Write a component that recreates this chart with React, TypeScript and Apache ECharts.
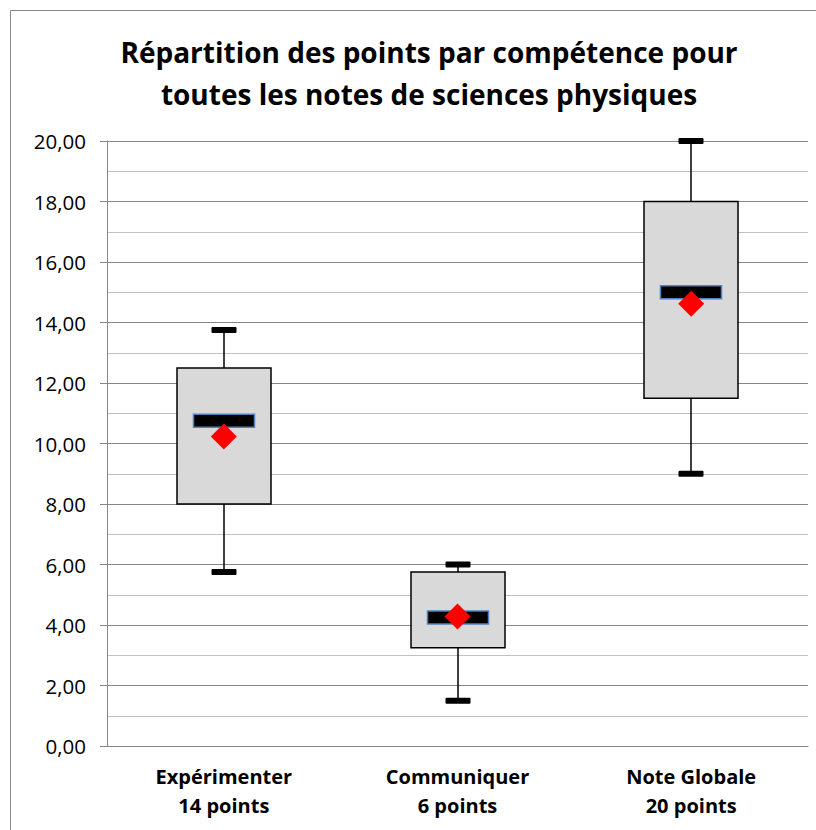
import React, { useEffect, useRef } from "react";
import * as echarts from "echarts";

const categories = ["Expérimenter\n14 points", "Communiquer\n6 points", "Note Globale\n20 points"];
const minValues = [5.75, 1.5, 9.0];
const q1Values = [8.0, 3.25, 11.5];
const medianValues = [10.75, 4.25, 15.0];
const q3Values = [12.5, 5.75, 18.0];
const maxValues = [13.75, 6.0, 20.0];
const meanValues = [10.23, 4.28, 14.62];
const titleText = "Répartition des points par compétence pour\ntoutes les notes de sciences physiques";

const FONT = "'Open Sans', 'Noto Sans', sans-serif";

export default function App() {
  const ref = useRef<HTMLDivElement>(null);
  useEffect(() => {
    if (!ref.current) return;
    document.body.style.margin = "0";
    document.body.style.overflow = "hidden";
    const chart = echarts.init(ref.current, null, { renderer: "svg" });
    const boxData = categories.map((_, i) => [i, minValues[i], q1Values[i], medianValues[i], q3Values[i], maxValues[i]]);
    const meanData = categories.map((_, i) => [i, meanValues[i]]);
    const BOX_W = 94, CAP_W = 25, CAP_H = 6, MED_W = 61, MED_H = 13;
    chart.setOption({
      animation: false,
      backgroundColor: "#ffffff",
      graphic: [
        {
          type: "line",
          shape: { x1: 10.5, y1: 10.5, x2: 816, y2: 10.5 },
          style: { stroke: "#878787", lineWidth: 1 },
          silent: true,
          z: -10,
        },
        {
          type: "line",
          shape: { x1: 10.5, y1: 10.5, x2: 10.5, y2: 830 },
          style: { stroke: "#878787", lineWidth: 1 },
          silent: true,
          z: -10,
        },
      ],
      title: {
        text: titleText,
        left: 424,
        top: 26,
        textAlign: "center",
        textStyle: { fontFamily: FONT, fontSize: 28, fontWeight: "bold", color: "#000", lineHeight: 42 },
      },
      grid: { left: 107, top: 141, right: 8, bottom: 84 },
      xAxis: {
        type: "category",
        data: categories,
        axisLine: { show: true, lineStyle: { color: "#868686", width: 1 } },
        axisTick: { show: false },
        splitLine: { show: false },
        axisLabel: {
          margin: 16,
          fontFamily: FONT,
          fontSize: 20,
          fontWeight: "bold",
          color: "#000",
          lineHeight: 29,
          interval: 0,
        },
      },
      yAxis: {
        type: "value",
        min: 0,
        max: 20,
        interval: 2,
        axisLine: { show: true, lineStyle: { color: "#868686", width: 1 } },
        axisTick: { show: true, length: 7, lineStyle: { color: "#868686" } },
        splitLine: { show: true, lineStyle: { color: "#868686", width: 1 } },
        minorTick: { show: false, splitNumber: 2 },
        minorSplitLine: { show: true, lineStyle: { color: "#c0c0c0", width: 1 } },
        axisLabel: {
          margin: 21,
          fontFamily: FONT,
          fontSize: 20.5,
          color: "#000",
          formatter: (v: number) => v.toFixed(2).replace(".", ","),
        },
      },
      series: [
        {
          type: "custom",
          data: boxData,
          encode: { x: 0, y: [1, 2, 3, 4, 5] },
          renderItem: (params: any, api: any) => {
            const idx = api.value(0);
            const pMin = api.coord([idx, api.value(1)]);
            const pQ1 = api.coord([idx, api.value(2)]);
            const pMed = api.coord([idx, api.value(3)]);
            const pQ3 = api.coord([idx, api.value(4)]);
            const pMax = api.coord([idx, api.value(5)]);
            const cx = Math.round(pMin[0]);
            return {
              type: "group",
              children: [
                {
                  type: "line",
                  shape: { x1: cx, y1: pMin[1], x2: cx, y2: pMax[1] },
                  style: { stroke: "#000", lineWidth: 1.5 },
                },
                {
                  type: "rect",
                  shape: { x: cx - CAP_W / 2, y: pMax[1] - CAP_H / 2, width: CAP_W, height: CAP_H, r: 1 },
                  style: { fill: "#000" },
                },
                {
                  type: "rect",
                  shape: { x: cx - CAP_W / 2, y: pMin[1] - CAP_H / 2, width: CAP_W, height: CAP_H, r: 1 },
                  style: { fill: "#000" },
                },
                {
                  type: "rect",
                  shape: { x: cx - BOX_W / 2, y: pQ3[1], width: BOX_W, height: pQ1[1] - pQ3[1] },
                  style: { fill: "#d9d9d9", stroke: "#000", lineWidth: 1.5 },
                },
                {
                  type: "rect",
                  shape: { x: cx - MED_W / 2, y: pMed[1] - MED_H / 2, width: MED_W, height: MED_H },
                  style: { fill: "#000", stroke: "#4f81bd", lineWidth: 1.5 },
                },
              ],
            };
          },
          z: 2,
        },
        {
          type: "scatter",
          data: meanData,
          symbol: "diamond",
          symbolSize: [26, 26],
          itemStyle: { color: "#ff0000", opacity: 1 },
          z: 3,
        },
      ],
    });
    return () => chart.dispose();
  }, []);
  return <div ref={ref} style={{ position: "fixed", left: 0, top: 0, width: 816, height: 830, background: "#fff" }} />;
}
